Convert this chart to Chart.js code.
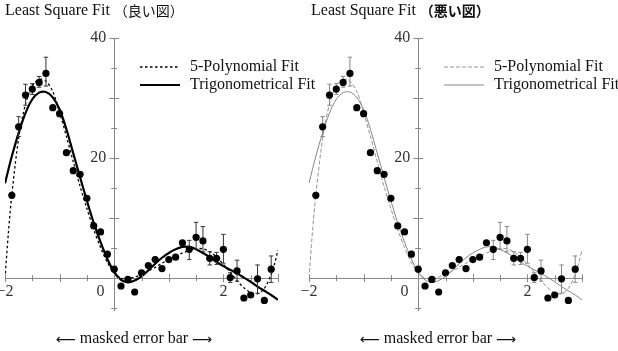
<!DOCTYPE html>
<html>
<head>
<meta charset="utf-8">
<script src="https://cdn.jsdelivr.net/npm/chart.js@4.4.1/dist/chart.umd.min.js"></script>
<style>
  html, body { margin: 0; padding: 0; background: #fff; }
  #wrap { position: relative; width: 618px; height: 351px; overflow: hidden; }
  canvas { position: absolute; top: 0; }
  #good { left: -10px; }
  #bad { left: 294px; }
</style>
</head>
<body>
<div id="wrap">
  <canvas id="good" width="350" height="351"></canvas>
  <canvas id="bad" width="324" height="351"></canvas>
</div>
<script>
// measured points
const X_VALUES = [-1.875, -1.75, -1.625, -1.5, -1.375, -1.25, -1.125, -1, -0.875, -0.75,
  -0.625, -0.5, -0.375, -0.25, -0.125, 0, 0.125, 0.25, 0.375, 0.5,
  0.625, 0.75, 0.875, 1, 1.125, 1.25, 1.375, 1.5, 1.625, 1.75,
  1.875, 2, 2.125, 2.25, 2.375, 2.5, 2.625, 2.75, 2.875];
const Y_VALUES = [13.8, 25.2, 30.5, 31.5, 32.6, 34.1, 28.4, 27.4, 20.9, 17.9,
  17.3, 13.3, 8.7, 7.7, 4.0, 1.5, -1.3, -0.2, -2.3, 0.9,
  2.1, 3.1, 1.6, 3.1, 3.5, 5.9, 4.8, 6.8, 6.2, 3.3,
  3.3, 4.8, 0.1, 1.2, -3.3, -2.8, -0.1, -3.7, 1.5];

// error bars (outside the masked range)
const ERR_X = [-1.75, -1.625, -1.5, -1.375, -1.25, 1.375, 1.5, 1.625, 1.75, 1.875, 2, 2.125, 2.25, 2.625, 2.875];
const ERR_LOW = [23.6, 28.8, 30.6, 31.8, 32.0, 3.1, 4.8, 4.4, 2.2, 2.3, 2.5, -0.7, -0.5, -2.5, -0.7];
const ERR_HIGH = [26.9, 32.3, 32.4, 33.6, 36.8, 6.3, 9.3, 8.6, 4.4, 4.3, 7.3, 0.9, 3.0, 2.2, 3.7];

// fitted curves
const CURVE_X = [-2, -1.9375, -1.875, -1.75, -1.625, -1.5, -1.375, -1.25, -1.125, -1,
  -0.875, -0.75, -0.625, -0.5, -0.375, -0.25, -0.125, 0, 0.125, 0.25,
  0.375, 0.5, 0.625, 0.75, 0.875, 1, 1.125, 1.25, 1.375, 1.5,
  1.625, 1.75, 1.875, 2, 2.125, 2.25, 2.375, 2.5, 2.625, 2.75,
  2.875, 2.9375, 3];
const POLY_FIT = [0.0, 7.6, 13.9, 23.3, 29.0, 32.0, 33.1, 32.8, 31.1, 27.6,
  23.6, 19.4, 15.3, 11.6, 8.1, 5.1, 2.6, 0.9, 0.0, -0.1,
  0.2, 0.6, 1.2, 1.8, 2.5, 3.1, 3.7, 4.2, 4.6, 4.9,
  4.9, 4.4, 3.5, 2.3, 1.0, -0.4, -1.6, -2.4, -2.6, -1.7,
  0.6, 2.4, 4.7];
const TRIG_FIT = [15.8, 18.1, 20.3, 24.2, 27.5, 29.8, 30.9, 31.0, 30.1, 28.1,
  24.8, 20.8, 16.8, 12.9, 9.2, 6.0, 3.2, 1.0, -0.3, -0.7,
  -0.4, 0.3, 1.3, 2.4, 3.4, 4.2, 4.8, 5.2, 5.2, 4.8,
  4.2, 3.5, 2.7, 2.0, 1.4, 0.8, 0.1, -0.6, -1.4, -2.1,
  -2.8, -3.2, -3.6];

const SERIES_NAMES = ['5-Polynomial Fit', 'Trigonometrical Fit'];
const X_TICKS = [-2, -1.5, -1, -0.5, 0, 0.5, 1, 1.5, 2, 2.5, 3];
const X_TICK_LABELS = ['\u22122', '', '', '', '0', '', '', '', '2', '', ''];
const Y_TICKS = [-5, 0, 5, 10, 15, 20, 25, 30, 35, 40];
const Y_TICK_LABELS = ['', '', '', '', '', '20', '', '', '', '40'];
const TITLE_MAIN = 'Least Square Fit';
const TITLE_TAGS = ['\uFF08良い図\uFF09', '\uFF08悪い図\uFF09'];
const CAPTION = 'masked error bar';

const SERIF = '"Liberation Serif", "DejaVu Serif", serif';

const decorPlugin = {
  id: 'decor',
  afterDraw(chart, args, opts) {
    const ctx = chart.ctx;
    const xs = chart.scales.x, ys = chart.scales.y;
    const x0 = xs.getPixelForValue(0), y0 = ys.getPixelForValue(0);
    ctx.save();

    // ticks crossing the axes
    ctx.strokeStyle = opts.axisColor;
    ctx.lineWidth = 1;
    ctx.beginPath();
    X_TICKS.forEach(v => {
      const px = Math.round(xs.getPixelForValue(v)) + 0.5;
      const len = Number.isInteger(v) ? 4 : 3;
      ctx.moveTo(px, y0 - len);
      ctx.lineTo(px, y0 + len);
    });
    Y_TICKS.forEach(v => {
      const py = Math.round(ys.getPixelForValue(v)) + 0.5;
      const len = v % 10 === 0 ? 5 : 3;
      ctx.moveTo(x0 - len, py);
      ctx.lineTo(x0 + len, py);
    });
    ctx.stroke();

    // legend
    ctx.font = '16px ' + SERIF;
    ctx.textBaseline = 'middle';
    ctx.textAlign = 'left';
    chart.data.datasets.filter(d => d.inLegend).forEach((d, i) => {
      const y = opts.legendY + i * 18;
      ctx.strokeStyle = d.borderColor;
      ctx.lineWidth = d.borderWidth;
      ctx.setLineDash(d.borderDash || []);
      ctx.beginPath();
      ctx.moveTo(opts.legendX, y);
      ctx.lineTo(opts.legendX + 40, y);
      ctx.stroke();
      ctx.setLineDash([]);
      ctx.fillStyle = '#111';
      ctx.fillText(d.label, opts.legendX + 50, y);
    });

    // title
    ctx.fillStyle = '#111';
    ctx.font = '16px ' + SERIF;
    ctx.fillText(TITLE_MAIN, opts.titleX, 11);
    const w = ctx.measureText(TITLE_MAIN + ' ').width;
    ctx.font = opts.tagWeight + ' 14px "Noto Sans CJK JP", sans-serif';
    ctx.fillText(opts.tag, opts.titleX + w, 11);

    // caption under the axis
    ctx.font = '16px ' + SERIF;
    ctx.textAlign = 'center';
    ctx.fillText(CAPTION, opts.captionX, 339);
    ctx.font = '14px "DejaVu Sans", sans-serif';
    ctx.textAlign = 'right';
    ctx.fillText('\u27F5', opts.captionX - 58, 340);
    ctx.textAlign = 'left';
    ctx.fillText('\u27F6', opts.captionX + 58, 340);
    ctx.restore();
  }
};

function makePanel(id, look) {
  const points = X_VALUES.map((x, i) => ({x, y: Y_VALUES[i]}));
  const bars = [];
  const caps = [];
  ERR_X.forEach((x, i) => {
    bars.push({x, y: ERR_LOW[i]}, {x, y: ERR_HIGH[i]}, {x, y: null});
    caps.push({x, y: ERR_LOW[i]}, {x, y: ERR_HIGH[i]});
  });
  const poly = CURVE_X.map((x, i) => ({x, y: POLY_FIT[i]}));
  const trig = CURVE_X.map((x, i) => ({x, y: TRIG_FIT[i]}));

  return new Chart(document.getElementById(id), {
    type: 'scatter',
    data: {
      datasets: [
        { data: points, pointRadius: 3.6, pointBackgroundColor: '#000', pointBorderWidth: 0, order: 0 },
        { data: bars, showLine: true, spanGaps: false, pointRadius: 0, borderColor: look.errColor, borderWidth: 1, order: 1 },
        { data: caps, pointStyle: 'line', pointRadius: 2.2, pointBorderColor: look.errColor, pointBorderWidth: 1, order: 1 },
        { label: SERIES_NAMES[0], inLegend: true, data: poly, showLine: true, pointRadius: 0,
          borderColor: look.polyColor, borderWidth: look.polyWidth, borderDash: look.polyDash, tension: 0.3, order: 2 },
        { label: SERIES_NAMES[1], inLegend: true, data: trig, showLine: true, pointRadius: 0,
          borderColor: look.trigColor, borderWidth: look.trigWidth, tension: 0.3, order: 2 }
      ]
    },
    options: {
      responsive: false,
      animation: false,
      events: [],
      layout: { padding: { left: 15, top: 38, right: look.padRight, bottom: 41 } },
      plugins: {
        legend: { display: false },
        tooltip: { enabled: false },
        decor: {
          axisColor: look.axisColor,
          legendX: 150, legendY: 67,
          titleX: look.titleX, tag: look.tag, tagWeight: look.tagWeight,
          captionX: 144
        }
      },
      scales: {
        x: {
          type: 'linear',
          position: { y: 0 },
          min: -2, max: 3,
          afterBuildTicks: s => { s.ticks = X_TICKS.map(v => ({value: v})); },
          grid: { display: false, drawTicks: false },
          border: { color: look.axisColor, width: 1 },
          ticks: {
            padding: 4, autoSkip: false, maxRotation: 0, color: '#333',
            font: { family: SERIF, size: 16 },
            callback: v => {
              const lab = X_TICK_LABELS[X_TICKS.indexOf(v)];
              return v === 0 ? lab + '\u2003\u2002\u2009' : lab;
            }
          }
        },
        y: {
          type: 'linear',
          position: { x: 0 },
          min: -5.3, max: 40,
          afterBuildTicks: s => { s.ticks = Y_TICKS.map(v => ({value: v})); },
          grid: { display: false, drawTicks: false },
          border: { color: look.axisColor, width: 1 },
          ticks: {
            autoSkip: false, color: '#333',
            font: { family: SERIF, size: 16 },
            callback: v => {
              const lab = Y_TICK_LABELS[Y_TICKS.indexOf(v)];
              return lab ? lab + '\u2002' : '';
            }
          }
        }
      }
    },
    plugins: [decorPlugin]
  });
}

makePanel('good', {
  padRight: 62, titleX: 15, tag: TITLE_TAGS[0], tagWeight: 'normal',
  axisColor: '#888', errColor: '#333',
  polyColor: '#000', polyWidth: 1.3, polyDash: [2.5, 2.5],
  trigColor: '#000', trigWidth: 2.2
});
makePanel('bad', {
  padRight: 36, titleX: 17, tag: TITLE_TAGS[1], tagWeight: 'bold',
  axisColor: '#888', errColor: '#888',
  polyColor: '#888', polyWidth: 0.9, polyDash: [4, 2],
  trigColor: '#777', trigWidth: 0.9
});
</script>
</body>
</html>
